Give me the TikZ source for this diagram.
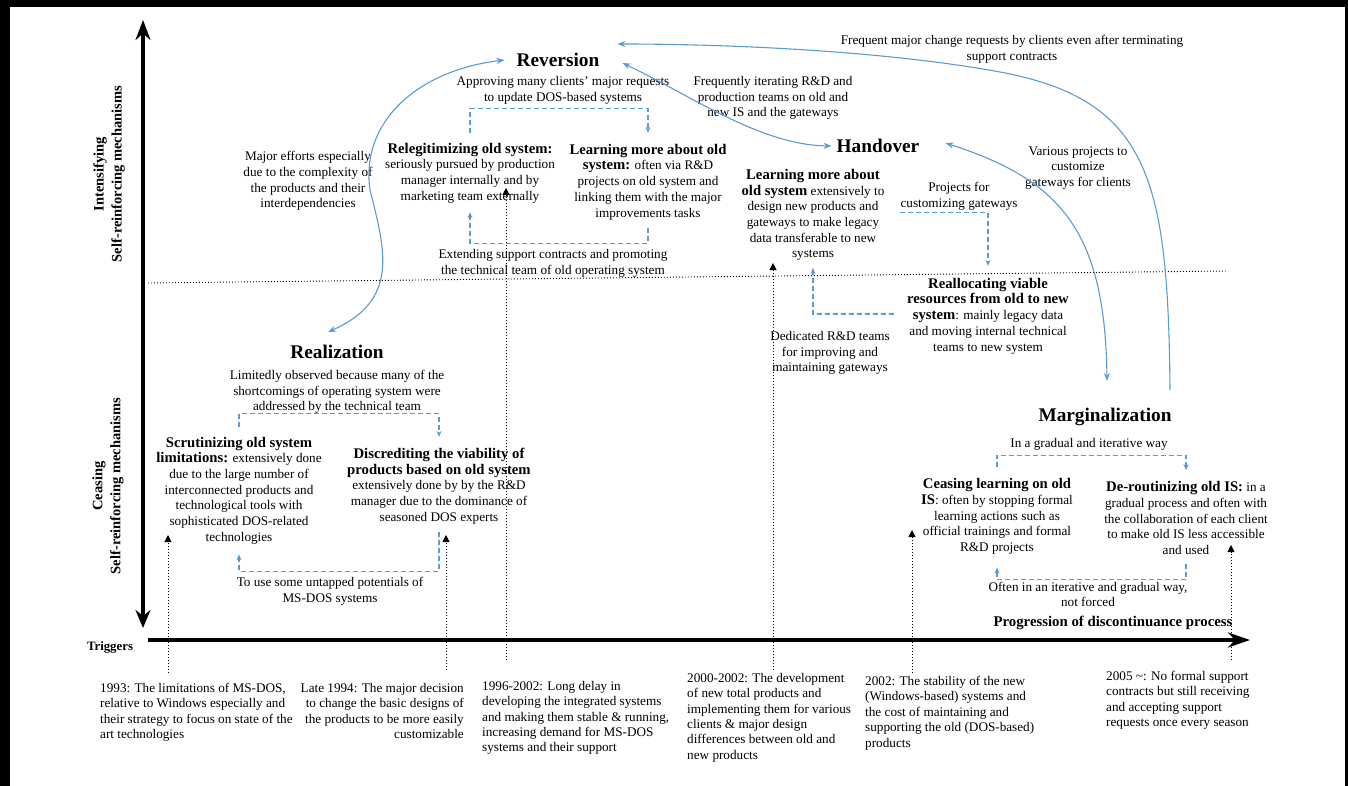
\documentclass[tikz,border=0pt]{standalone}
\usepackage{fontspec}
\setmainfont{Liberation Serif}
\usetikzlibrary{arrows.meta,calc}
\definecolor{lblue}{RGB}{91,155,213}
\newcommand\bpart[1]{{\fontsize{14.7}{15.7}\selectfont\bfseries #1}}
\tikzset{
 txt/.style={font=\fontsize{13.2}{15.7}\selectfont, align=center, inner sep=0pt},
 ttl/.style={font=\fontsize{19.3}{22}\selectfont\bfseries, inner sep=1pt},
 axlabel/.style={font=\fontsize{14.5}{18}\selectfont\bfseries, align=center, rotate=90, inner sep=0pt},
 trig/.style={font=\fontsize{13.2}{15.4}\selectfont, align=left, inner sep=0pt, anchor=north west},
 blink/.style={draw=lblue, line width=1.1pt, {Stealth[length=8pt,width=6pt]}-{Stealth[length=8pt,width=6pt]}},
 blinkone/.style={draw=lblue, line width=1.1pt, -{Stealth[length=8pt,width=6pt]}},
 dlink/.style={draw=lblue, line width=1.1pt, dash pattern=on 5pt off 3pt, -{Stealth[length=6pt,width=5pt]}},
 timemark/.style={line width=0.9pt, dash pattern=on 0.9pt off 2.1pt, -{Triangle[length=7pt,width=7pt]}},
 axisline/.style={line width=4pt},
}
\begin{document}
\begin{tikzpicture}[x=1pt,y=-1pt]
\useasboundingbox (0,0) rectangle (1348,786);
% frame
\fill[black] (0,0) rectangle (10,786);
\fill[black] (0,0) rectangle (1348,7);
\fill[black] (1345,0) rectangle (1348,786);

% axes
\draw[axisline, {Stealth[length=20pt,width=15pt]}-{Stealth[length=18pt,width=15pt]}] (143,20) -- (143,628);
\draw[axisline, -{Stealth[length=22pt,width=15pt]}] (148,640) -- (1250,640);
\draw[line width=0.9pt, dash pattern=on 0.9pt off 2.1pt] (148,283) -- (1228,271);

% axis labels
\node[axlabel] (intens) at (109,174) {Intensifying\\Self-reinforcing mechanisms};
\node[axlabel] (ceasing) at (108,486) {Ceasing\\Self-reinforcing mechanisms};
\node[font=\fontsize{12.8}{15}\selectfont\bfseries, inner sep=0pt] (trigl) at (110,647) {Triggers};
\node[font=\fontsize{14.8}{16}\selectfont\bfseries, inner sep=0pt] (prog) at (1113,623) {Progression of discontinuance process};

% Reversion
\node[ttl] (rev) at (558,60) {Reversion};
\node[txt] (revnote) at (563,90) {Approving many clients' major requests\\to update DOS-based systems};
\node[txt] (relegit) at (470,173) {\bpart{Relegitimizing old system:}\\seriously pursued by production\\manager internally and by\\marketing team externally};
\node[txt] (learnold) at (648,182) {\bpart{Learning more about old}\\\bpart{system:} often via R\&D\\projects on old system and\\linking them with the major\\improvements tasks};
\node[txt] (revnote2) at (553,263) {Extending support contracts and promoting\\the technical team of old operating system};
\node[txt] (effort) at (308,181) {Major efforts especially\\due to the complexity of\\the products and their\\interdependencies};

% Handover
\node[ttl] (hand) at (878,146) {Handover};
\node[txt] (iter) at (773,98) {Frequently iterating R\&D and\\production teams on old and\\new IS and the gateways};
\node[txt] (freq) at (1012,49) {Frequent major change requests by clients even after terminating\\support contracts};
\node[txt] (various) at (1078,168) {Various projects to\\customize\\gateways for clients};
\node[txt] (learnnew) at (813,215) {\bpart{Learning more about}\\\bpart{old system} extensively to\\design new products and\\gateways to make legacy\\data transferable to new\\systems};
\node[txt] (projcust) at (959,196.5) {Projects for\\customizing gateways};
\node[txt] (realloc) at (988,316) {\bpart{Reallocating viable}\\\bpart{resources from old to new}\\\bpart{system}: mainly legacy data\\and moving internal technical\\teams to new system};
\node[txt] (dedic) at (830,353) {Dedicated R\&D teams\\for improving and\\maintaining gateways};

% Realization
\node[ttl] (real) at (337,352) {Realization};
\node[txt] (limit) at (337,392) {Limitedly observed because many of the\\shortcomings of operating system were\\addressed by the technical team};
\node[txt] (scrut) at (239,490.5) {\bpart{Scrutinizing old system}\\\bpart{limitations:} extensively done\\due to the large number of\\interconnected products and\\technological tools with\\sophisticated DOS-related\\technologies};
\node[txt] (discr) at (439,486) {\bpart{Discrediting the viability of}\\\bpart{products based on old system}\\extensively done by by the R\&D\\manager due to the dominance of\\seasoned DOS experts};
\node[txt] (untap) at (330,591.5) {To use some untapped potentials of\\MS-DOS systems};

% Marginalization
\node[ttl] (marg) at (1105,417) {Marginalization};
\node[txt] (gradual) at (1089,444) {In a gradual and iterative way};
\node[txt] (ceas) at (997,516.5) {\bpart{Ceasing learning on old}\\\bpart{IS}: often by stopping formal\\learning actions such as\\official trainings and formal\\R\&D projects};
\node[txt] (derout) at (1186,518) {\bpart{De-routinizing old IS:} in a\\gradual process and often with\\the collaboration of each client\\to make old IS less accessible\\and used};
\node[txt] (often) at (1088,594.5) {Often in an iterative and gradual way,\\not forced};

% triggers
\node[trig] (t1) at (100,683) {1993: The limitations of MS-DOS,\\relative to Windows especially and\\their strategy to focus on state of the\\art technologies};
\node[trig, align=right, anchor=north east] (t2) at (464,683) {Late 1994: The major decision\\to change the basic designs of\\the products to be more easily\\customizable};
\node[trig] (t3) at (482,681) {1996-2002: Long delay in\\developing the integrated systems\\and making them stable \& running,\\increasing demand for MS-DOS\\systems and their support};
\node[trig] (t4) at (687,673) {2000-2002: The development\\of new total products and\\implementing them for various\\clients \& major design\\differences between old and\\new products};
\node[trig] (t5) at (865,676) {2002: The stability of the new\\(Windows-based) systems and\\the cost of maintaining and\\supporting the old (DOS-based)\\products};
\node[trig] (t6) at (1106,671) {2005 \textasciitilde: No formal support\\contracts but still receiving\\and accepting support\\requests once every season};

% time markers
\coordinate (m1b) at (168,673); \coordinate (m1t) at (168,535);
\coordinate (m2b) at (446,670); \coordinate (m2t) at (446,535);
\coordinate (m3b) at (506,660); \coordinate (m3t) at (506,188);
\coordinate (m4b) at (773,670); \coordinate (m4t) at (773,263);
\coordinate (m5b) at (912,673); \coordinate (m5t) at (912,530);
\coordinate (m6b) at (1231,660); \coordinate (m6t) at (1231,545);
\foreach \i in {1,...,6} \draw[timemark] (m\i b) -- (m\i t);

% dashed links
\draw[dlink] ([yshift=10pt]relegit.north) -- ++(0,-24) -| ([yshift=11pt]learnold.north);
\draw[dlink] ([yshift=-8pt]learnold.south) -- ++(0,15) -| ([yshift=-9pt]relegit.south);
\draw[dlink] ([yshift=10pt]scrut.north) -- ++(0,-13) -| ([yshift=11pt]discr.north);
\draw[dlink] ([yshift=-8pt]discr.south) -- ++(0,39) -| ([yshift=-10pt]scrut.south);
\draw[dlink] ([yshift=11pt]ceas.north) -- ++(0,-12) -| ([yshift=11pt]derout.north);
\draw[dlink] ([yshift=-9pt]derout.south) -- ++(0,16) -| ([yshift=-13pt]ceas.south);
\draw[dlink] ([yshift=-2pt]projcust.south west) -| ([yshift=12pt]realloc.north);
\draw[dlink] ([xshift=-13pt,yshift=2pt]realloc.west) -| ([yshift=-7pt]learnnew.south);

% blue curves
\draw[blink] ([xshift=-11pt]rev.west) .. controls (420,70) and (360,120) .. (370,190) .. controls (385,250) and (400,300) .. ([xshift=-9pt,yshift=12pt]real.north);
\draw[blink] ([xshift=22pt,yshift=-3pt]rev.east) .. controls (690,95) and (760,145) .. ([xshift=-4pt]hand.west);
\draw[blink] ([xshift=25pt,yshift=3pt]hand.east) .. controls (1060,180) and (1105,230) .. ([xshift=2pt,yshift=26pt]marg.north);
\draw[blinkone] ([xshift=65pt,yshift=17pt]marg.north) .. controls (1168,180) and (1150,100) .. (1000,72) .. controls (880,50) and (720,44) .. ([xshift=17pt,yshift=16pt]rev.east);
\end{tikzpicture}
\end{document}
